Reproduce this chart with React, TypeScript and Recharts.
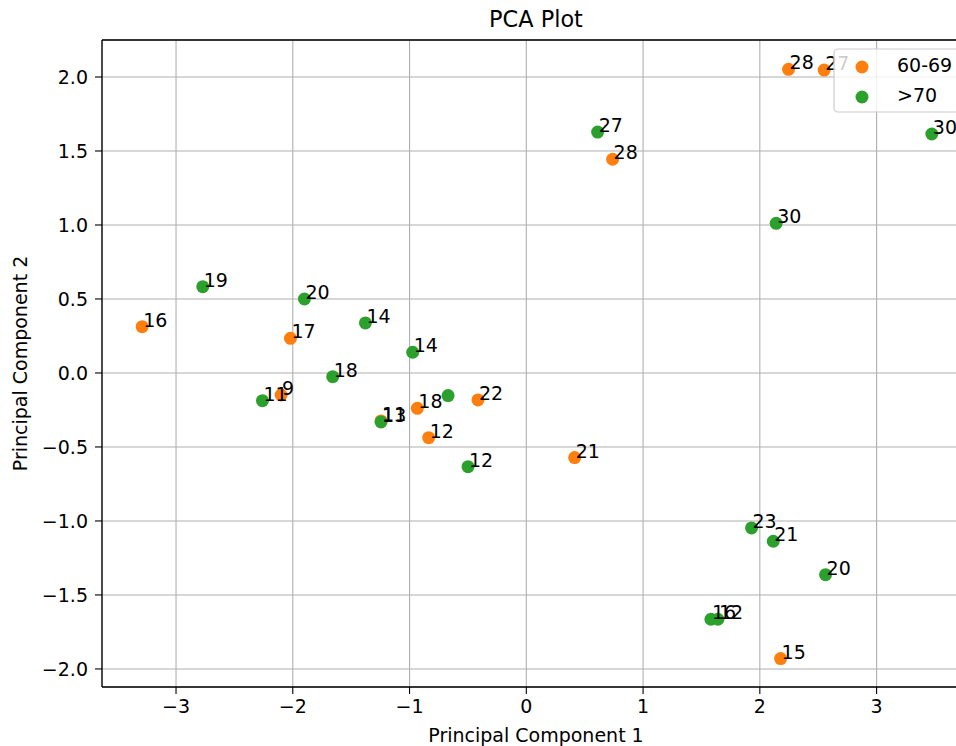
import React from 'react';
import {
  ScatterChart,
  Scatter,
  XAxis,
  YAxis,
  CartesianGrid,
  ReferenceLine,
  Customized,
} from 'recharts';

const FONT = '"DejaVu Sans", sans-serif';
const FS = 19;

const seriesNames = ['60-69', '>70'];
const seriesColors = ['#ff7f0e', '#2ca02c'];

const xTicks = [-3, -2, -1, 0, 1, 2, 3];
const yTicks = [-2.0, -1.5, -1.0, -0.5, 0.0, 0.5, 1.0, 1.5, 2.0];

// 60-69 group
const pc1Orange = [-3.29, -2.02, -2.1, -0.933, -0.414, -0.836, 0.414, -1.244, 2.246, 2.551, 0.739, 2.178];
const pc2Orange = [0.313, 0.234, -0.149, -0.239, -0.182, -0.437, -0.572, -0.324, 2.052, 2.047, 1.444, -1.93];
const labelsOrange = ['16', '17', '9', '18', '22', '12', '21', '11', '28', '27', '28', '15'];

// >70 group
const pc1Green = [-2.771, -1.9, -2.26, -1.658, -1.378, -0.973, -0.67, -1.244, -0.499, 0.611, 2.14, 3.473, 1.929, 2.115, 2.563, 1.581, 1.641];
const pc2Green = [0.583, 0.5, -0.187, -0.025, 0.338, 0.14, -0.153, -0.331, -0.633, 1.628, 1.011, 1.615, -1.047, -1.137, -1.363, -1.664, -1.664];
const labelsGreen = ['19', '20', '11', '18', '14', '14', '', '13', '12', '27', '30', '30', '23', '21', '20', '16', '12'];

const toPoints = (xs: number[], ys: number[], labels: string[]) =>
  xs.map((x, i) => ({ x, y: ys[i], label: labels[i] }));

const orangeData = toPoints(pc1Orange, pc2Orange, labelsOrange);
const greenData = toPoints(pc1Green, pc2Green, labelsGreen);
const allData = [...orangeData, ...greenData];

const minus = (s: string) => s.replace('-', '\u2212');

const dot = (color: string) => (props: any) => (
  <circle cx={props.cx} cy={props.cy} r={6.5} fill={color} />
);

const pointLabel = (props: any) => (
  <text x={props.cx + 1} y={props.cy} fontFamily={FONT} fontSize={FS} fill="#000">
    {props.payload.label}
  </text>
);

const Titles = () => (
  <g>
    <text x={536} y={27} textAnchor="middle" fontFamily={FONT} fontSize={22.4} fill="#000">
      PCA Plot
    </text>
    <text x={536} y={742} textAnchor="middle" fontFamily={FONT} fontSize={FS} fill="#000">
      Principal Component 1
    </text>
    <text
      x={27}
      y={363.5}
      textAnchor="middle"
      transform="rotate(-90, 27, 363.5)"
      fontFamily={FONT}
      fontSize={FS}
      fill="#000"
    >
      Principal Component 2
    </text>
  </g>
);

// legend box drawn over the plot, like matplotlib's framed legend
const LegendBox = () => (
  <svg width={956} height={746} style={{ position: 'absolute', left: 0, top: 0, pointerEvents: 'none' }}>
    <rect x={834} y={49} width={140} height={63} rx={4} fill="#fff" fillOpacity={0.8} stroke="#cccccc" strokeWidth={1.2} />
    {seriesNames.map((name, i) => (
      <g key={name}>
        <circle cx={862} cy={67 + i * 30} r={6.5} fill={seriesColors[i]} />
        <text x={897} y={72 + i * 30} fontFamily={FONT} fontSize={FS} fill="#000">
          {name}
        </text>
      </g>
    ))}
  </svg>
);

export default function App() {
  return (
    <div style={{ position: 'absolute', left: 0, top: 0, width: 956, height: 746, overflow: 'hidden', background: '#fff' }}>
      <ScatterChart width={972} height={746} margin={{ top: 40, right: 2, left: 0, bottom: 0 }}>
        <CartesianGrid stroke="#b0b0b0" strokeWidth={1.1} />
        <XAxis
          type="number"
          dataKey="x"
          domain={[-3.634, 3.8]}
          ticks={xTicks}
          allowDataOverflow
          height={59}
          tickSize={7}
          tickMargin={6}
          tickFormatter={(v: number) => minus(String(v))}
          tick={{ fontSize: FS, fill: '#000', fontFamily: FONT }}
          axisLine={{ stroke: '#000', strokeWidth: 1.3 }}
          tickLine={{ stroke: '#000', strokeWidth: 1.1 }}
        />
        <YAxis
          type="number"
          dataKey="y"
          domain={[-2.122, 2.25]}
          ticks={yTicks}
          allowDataOverflow
          width={102}
          tickSize={7}
          tickMargin={7}
          tickFormatter={(v: number) => minus(v.toFixed(1))}
          tick={{ fontSize: FS, fill: '#000', fontFamily: FONT }}
          axisLine={{ stroke: '#000', strokeWidth: 1.3 }}
          tickLine={{ stroke: '#000', strokeWidth: 1.1 }}
        />
        <ReferenceLine y={2.25} stroke="#000" strokeWidth={1.3} ifOverflow="extendDomain" />
        <Scatter name={seriesNames[0]} data={orangeData} shape={dot(seriesColors[0])} isAnimationActive={false} />
        <Scatter name={seriesNames[1]} data={greenData} shape={dot(seriesColors[1])} isAnimationActive={false} />
        <Scatter data={allData} shape={pointLabel} legendType="none" isAnimationActive={false} />
        <Customized component={Titles} />
      </ScatterChart>
      <LegendBox />
    </div>
  );
}
